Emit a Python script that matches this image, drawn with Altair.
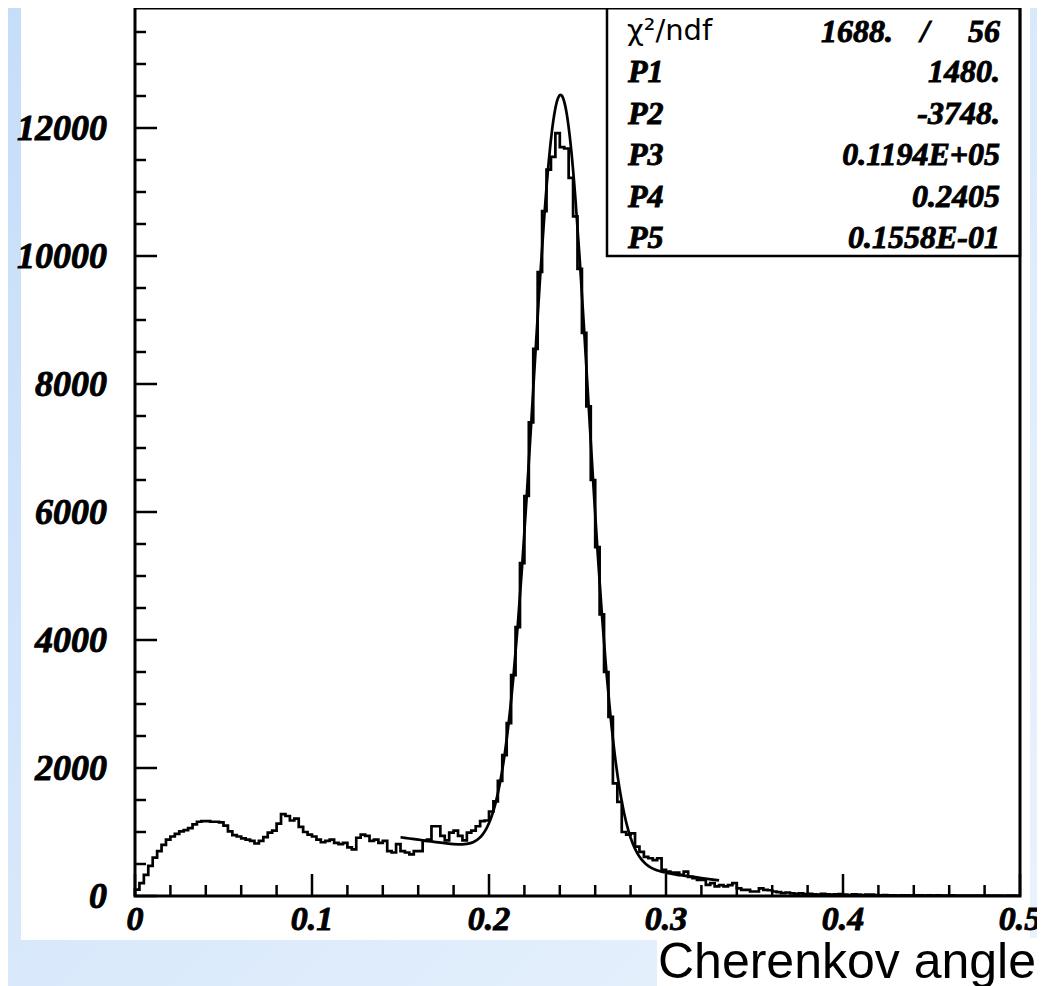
import altair as alt
import pandas as pd

# ---------------- data ----------------
BIN_WIDTH = 0.0025  # 200 bins over 0 .. 0.5

counts = [
    100, 200, 330, 470, 600, 700, 800, 880, 930, 970,
    1010, 1030, 1060, 1120, 1160, 1170, 1170, 1160, 1160, 1150,
    1100, 1010, 950, 930, 900, 880, 860, 820, 860, 920,
    990, 1020, 1130, 1280, 1250, 1180, 1210, 1080, 1000, 960,
    930, 880, 840, 860, 880, 830, 810, 830, 760, 730,
    910, 960, 940, 860, 880, 830, 860, 700, 680, 810,
    700, 680, 650, 700, 700, 860, 880, 1090, 1090, 940,
    870, 990, 1020, 940, 870, 990, 1020, 1090, 1170, 1180,
    1320, 1480, 1800, 2200, 2700, 3450, 4200, 5200, 6250, 7400,
    8550, 9750, 10700, 11350, 11550, 11920, 11700, 11680, 11220, 10620,
    9800, 8800, 7650, 6500, 5450, 4400, 3500, 2800, 1760, 1470,
    1000, 960, 980, 770, 690, 610, 590, 560, 590, 410,
    380, 365, 365, 330, 380, 300, 280, 250, 250, 175,
    200, 150, 170, 150, 170, 200, 120, 95, 95, 70,
    70, 120, 95, 90, 70, 60, 45, 55, 40, 35,
    40, 30, 35, 25, 20, 35, 25, 20, 25, 30,
    20, 15, 25, 20, 15, 20, 20, 15, 10, 15,
    10, 12, 8, 12, 10, 8, 10, 12, 8, 10,
    8, 10, 6, 8, 10, 6, 8, 6, 8, 6,
    6, 8, 5, 6, 5, 6, 4, 6, 5, 4,
]

fit_x = [0.150, 0.155, 0.160, 0.165, 0.170, 0.175, 0.180, 0.185, 0.1875, 0.190,
         0.19125, 0.19375, 0.19625, 0.19875, 0.20125, 0.20375, 0.20625, 0.20875,
         0.21125, 0.21375, 0.21625, 0.21875, 0.22125, 0.22375, 0.22625, 0.22875,
         0.23125, 0.23375, 0.23625, 0.23875, 0.2405, 0.24125, 0.24375, 0.24625,
         0.24875, 0.25125, 0.25375, 0.25625, 0.25875, 0.26125, 0.26375, 0.26625,
         0.26875, 0.27125, 0.27375, 0.27625, 0.27875, 0.28125, 0.28375, 0.28625,
         0.28875, 0.29125, 0.29375, 0.29625, 0.29875, 0.30125, 0.305, 0.310,
         0.320, 0.330]
fit_y = [918, 899, 880, 862, 843, 826, 812, 808, 814, 830,
         844, 886, 956, 1064, 1226, 1455, 1773, 2194,
         2738, 3413, 4227, 5168, 6220, 7342, 8494, 9609,
         10623, 11474, 12099, 12450, 12519, 12502, 12249, 11711,
         10926, 9949, 8846, 7683, 6522, 5419, 4412, 3529,
         2780, 2165, 1679, 1304, 1021, 817, 670, 567,
         497, 447, 414, 390, 371, 357, 339, 319,
         281, 243]

x_major = [0.0, 0.1, 0.2, 0.3, 0.4, 0.5]
x_labels = ["0", "0.1", "0.2", "0.3", "0.4", "0.5"]
x_minor = [0.02, 0.04, 0.06, 0.08, 0.12, 0.14, 0.16, 0.18, 0.22, 0.24,
           0.26, 0.28, 0.32, 0.34, 0.36, 0.38, 0.42, 0.44, 0.46, 0.48]
y_major = [0, 2000, 4000, 6000, 8000, 10000, 12000]
y_labels = ["0", "2000", "4000", "6000", "8000", "10000", "12000"]
y_minor = [500, 1000, 1500, 2500, 3000, 3500, 4500, 5000, 5500, 6500, 7000,
           7500, 8500, 9000, 9500, 10500, 11000, 11500, 12500, 13000, 13500]
x_max = 0.5
y_max = 13875

stat_names = ["P1", "P2", "P3", "P4", "P5"]
stat_values = ["1480.", "-3748.", "0.1194E+05", "0.2405", "0.1558E-01"]
chi2_label = "χ²/ndf"
chi2_value = "1688."
ndf_value = "56"
x_title = "Cherenkov angle"

# ---------------- layout ----------------
W, H = 885, 888
SERIF = "Liberation Serif"
SANS = "Liberation Sans"

hist_rows = [{"i": 0, "x": 0.0, "y": 0}]
for k, c in enumerate(counts):
    hist_rows.append({"i": k + 1, "x": k * BIN_WIDTH, "y": c})
hist_rows.append({"i": len(counts) + 1, "x": len(counts) * BIN_WIDTH, "y": counts[-1]})
hist_df = pd.DataFrame(hist_rows)
fit_df = pd.DataFrame({"x": fit_x, "y": fit_y})
one = pd.DataFrame({"a": [0]})

x_scale = alt.Scale(domain=[0, x_max], nice=False, zero=False)
y_scale = alt.Scale(domain=[0, y_max], nice=False, zero=False)

X = lambda: alt.X("x:Q", scale=x_scale, axis=None)
Y = lambda: alt.Y("y:Q", scale=y_scale, axis=None)

bold_text = dict(font=SERIF, fontStyle="italic", fontWeight="bold", color="black",
                 stroke="black", strokeWidth=0.9)

bg = alt.Chart(one).mark_rect(
    fill=alt.LinearGradient(
        gradient="linear",
        stops=[alt.GradientStop(color="#c6ddf9", offset=0),
               alt.GradientStop(color="#d9e9fb", offset=0.5),
               alt.GradientStop(color="#ebf3fc", offset=1)],
        x1=0, x2=1, y1=0, y2=1)
).encode(x=alt.value(-130), x2=alt.value(920), y=alt.value(-10), y2=alt.value(1000))

panel = alt.Chart(one).mark_rect(color="white").encode(
    x=alt.value(-114), x2=alt.value(895), y=alt.value(-10), y2=alt.value(932))
title_box = alt.Chart(one).mark_rect(color="white").encode(
    x=alt.value(522), x2=alt.value(920), y=alt.value(930), y2=alt.value(1000))

xt_major = alt.Chart(pd.DataFrame({"x": x_major})).mark_rule(color="black", strokeWidth=2.5).encode(
    x=X(), y=alt.value(H), y2=alt.value(H - 22))
xt_minor = alt.Chart(pd.DataFrame({"x": x_minor})).mark_rule(color="black", strokeWidth=2.5).encode(
    x=X(), y=alt.value(H), y2=alt.value(H - 11))
yt_major = alt.Chart(pd.DataFrame({"y": y_major})).mark_rule(color="black", strokeWidth=2.5).encode(
    y=Y(), x=alt.value(0), x2=alt.value(22))
yt_minor = alt.Chart(pd.DataFrame({"y": y_minor})).mark_rule(color="black", strokeWidth=2.5).encode(
    y=Y(), x=alt.value(0), x2=alt.value(11))

xlab = alt.Chart(pd.DataFrame({"x": x_major, "t": x_labels})).mark_text(
    fontSize=34, align="center", baseline="alphabetic", **bold_text
).encode(x=X(), y=alt.value(H + 34), text="t:N")
ylab = alt.Chart(pd.DataFrame({"y": y_major, "t": y_labels})).mark_text(
    fontSize=36, align="right", baseline="alphabetic", dy=12, **bold_text
).encode(y=Y(), x=alt.value(-28), text="t:N")

hist = alt.Chart(hist_df).mark_line(interpolate="step-after", color="black", strokeWidth=2.7).encode(
    x=X(), y=Y(), order="i:Q")
fit = alt.Chart(fit_df).mark_line(interpolate="monotone", color="black", strokeWidth=2.7).encode(
    x=X(), y=Y())

box = alt.Chart(one).mark_rect(fill="white", stroke="black", strokeWidth=2.5).encode(
    x=alt.value(472), x2=alt.value(885), y=alt.value(-1), y2=alt.value(248))


def txt(s, x, y, align, size=32):
    return alt.Chart(one).mark_text(text=s, fontSize=size, align=align,
                                    baseline="alphabetic", **bold_text).encode(
        x=alt.value(x), y=alt.value(y))


texts = [
    alt.Chart(one).mark_text(text=chi2_label, font="DejaVu Sans", fontSize=29, align="left",
                             baseline="alphabetic", color="black").encode(
        x=alt.value(492), y=alt.value(32)),
    txt(chi2_value, 758, 34, "right"),
    txt("/", 790, 34, "center"),
    txt(ndf_value, 865, 34, "right"),
]
ROW0, ROWSTEP = 74, 41.5
for k in range(len(stat_names)):
    yb = ROW0 + k * ROWSTEP
    texts.append(txt(stat_names[k], 493, yb, "left"))
    texts.append(txt(stat_values[k], 865, yb, "right"))

frame = alt.Chart(one).mark_rect(fillOpacity=0, stroke="black", strokeWidth=3).encode(
    x=alt.value(0), x2=alt.value(W), y=alt.value(0), y2=alt.value(H))

xlabel = alt.Chart(one).mark_text(text=x_title, font=SANS, fontSize=50, align="left",
                                  baseline="alphabetic", color="black").encode(
    x=alt.value(523), y=alt.value(970))

chart = alt.layer(
    bg, panel, title_box, xt_major, xt_minor, yt_major, yt_minor,
    hist, fit, box, *texts, frame, xlab, ylab, xlabel
).properties(
    width=W, height=H,
    padding={"left": 127, "top": 0, "right": 17, "bottom": 96},
    autosize=alt.AutoSizeParams(type="none"),
).configure(background="#d6e7fb").configure_view(strokeWidth=0)

chart.save("out.html", embed_options={"renderer": "svg", "actions": False})
